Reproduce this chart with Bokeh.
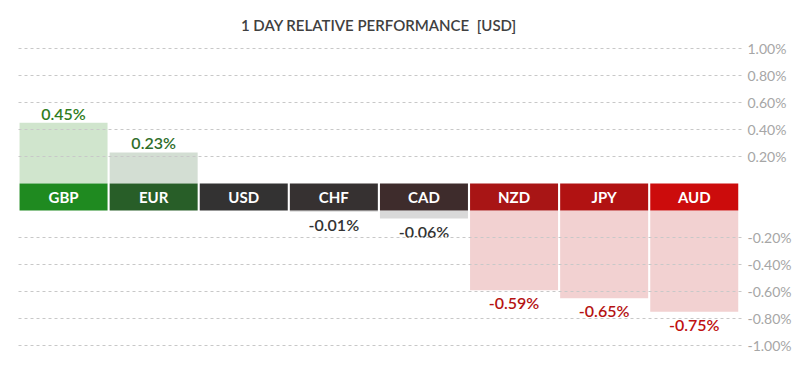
from bokeh.plotting import figure
from bokeh.models import ColumnDataSource, Range1d, FixedTicker, CustomJSTickFormatter, LinearAxis
from bokeh.core.properties import value
from bokeh.embed import file_html
from bokeh.resources import INLINE

# ---- data ----
currencies = ["GBP", "EUR", "USD", "CHF", "CAD", "NZD", "JPY", "AUD"]
changes = [0.45, 0.23, 0.0, -0.01, -0.06, -0.59, -0.65, -0.75]
tick_values = [1.0, 0.8, 0.6, 0.4, 0.2, -0.2, -0.4, -0.6, -0.8, -1.0]
band_colors = ["#1f8a20", "#285e28", "#333232", "#363131", "#3e2c2c", "#a81515", "#b11212", "#cc0c0c"]
bar_colors = ["#d0e5cd", "#d3ded3", "#d9d9d9", "#d9d9d9", "#d9d9d9", "#f2d1d1", "#f2d1d1", "#f2d1d1"]
label_colors = ["#2f7d22", "#2f6e2a", "#333333", "#333333", "#333333", "#b51313", "#b51313", "#c01010"]
title_text = "1 DAY RELATIVE PERFORMANCE\u00a0 [USD]"

BAND = 0.2  # height of the currency band, in % units
FONT = "Lato"
FONT_SEMI = "Lato Semibold, Lato"

idx = list(range(len(currencies)))
bar_top = [c if c >= 0 else -BAND for c in changes]
bar_bottom = [0 if c >= 0 else c - BAND for c in changes]
labels = ["%.2f%%" % c for c in changes]

pos = [i for i in idx if changes[i] > 0]
neg = [i for i in idx if changes[i] < 0]

src_bars = ColumnDataSource(dict(x=idx, top=bar_top, bottom=bar_bottom, color=bar_colors))
src_band = ColumnDataSource(dict(x=idx, name=currencies, color=band_colors,
                                 top=[0] * len(idx), bottom=[-BAND] * len(idx),
                                 mid=[-BAND / 2] * len(idx)))
src_pos = ColumnDataSource(dict(x=[idx[i] for i in pos], y=[changes[i] for i in pos],
                                t=[labels[i] for i in pos], c=[label_colors[i] for i in pos]))
src_neg = ColumnDataSource(dict(x=[idx[i] for i in neg], y=[changes[i] - BAND for i in neg],
                                t=[labels[i] for i in neg], c=[label_colors[i] for i in neg]))

slot = 90.1
frame_w = 724
frame_h = 347
px_per_unit = 135.0
y_top = 176 / px_per_unit
y_bot = -171 / px_per_unit

p = figure(frame_width=frame_w, frame_height=frame_h, output_backend="svg", toolbar_location=None,
           x_range=Range1d(-0.5, -0.5 + frame_w / slot), y_range=Range1d(y_bot, y_top),
           min_border_left=18, min_border_right=48, min_border_top=7, min_border_bottom=0,
           y_axis_location=None)
p.xaxis.visible = False
p.outline_line_color = None
p.background_fill_color = "white"
p.xgrid.visible = False

yax = LinearAxis()
yax.ticker = FixedTicker(ticks=[t if t > 0 else round(t - BAND, 4) for t in tick_values])
yax.formatter = CustomJSTickFormatter(args=dict(band=BAND), code="""
    const v = tick > 0 ? tick : tick + band;
    return v.toFixed(2) + "%";
""")
yax.axis_line_color = None
yax.major_tick_line_color = None
yax.minor_tick_line_color = None
yax.major_tick_out = 0
yax.major_label_standoff = 5
yax.major_label_text_font = FONT
yax.major_label_text_font_size = "14px"
yax.major_label_text_color = "#a6a6a6"
p.add_layout(yax, "right")

p.ygrid.ticker = yax.ticker
p.ygrid.grid_line_color = "#c8c8c8"
p.ygrid.grid_line_dash = "3 3"
p.ygrid.grid_line_width = 1
p.ygrid.level = "overlay"

bw = 88 / slot
p.vbar(x="x", top="top", bottom="bottom", width=bw, fill_color="color", line_color=None, source=src_bars)
p.vbar(x="x", top="top", bottom="bottom", width=bw, fill_color="color", line_color=None, source=src_band)
p.text(x="x", y="mid", text="name", source=src_band, text_color="white", text_font=value(FONT),
       text_font_style="bold", text_font_size="15px", text_align="center", text_baseline="middle")

p.text(x="x", y="y", text="t", source=src_pos, text_color="c", text_font=value(FONT_SEMI),
       text_font_size="16px", text_align="center", text_baseline="bottom", y_offset=0)
p.text(x="x", y="y", text="t", source=src_neg, text_color="c", text_font=value(FONT_SEMI),
       text_font_size="16px", text_align="center", text_baseline="top", y_offset=3)

p.text(x=[(len(idx) - 1) / 2], y=[159 / px_per_unit], text=[title_text], text_color="#404040",
       text_font=value(FONT_SEMI), text_font_size="15px", text_align="center", text_baseline="middle")

open("out.html", "w").write(file_html(p, INLINE))
